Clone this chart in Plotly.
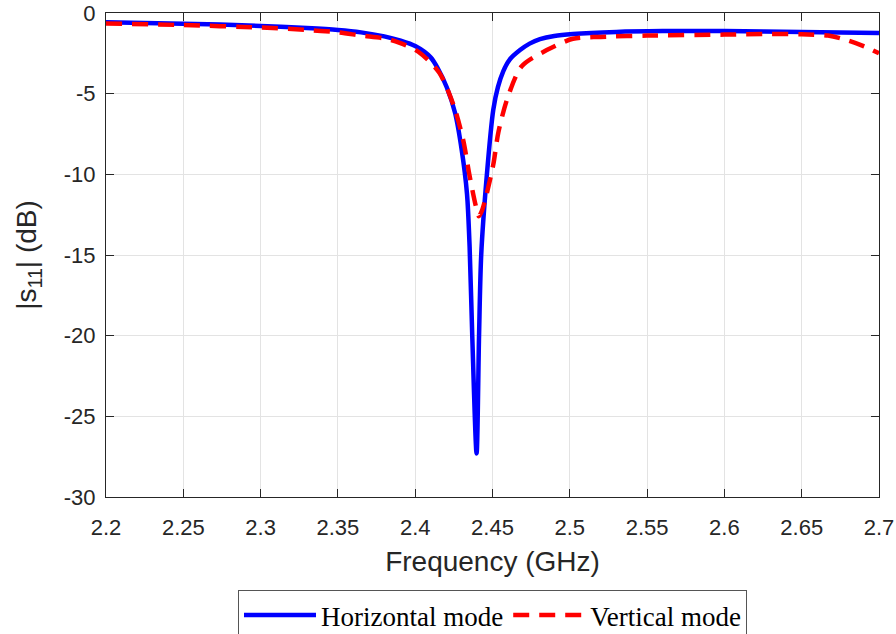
import plotly.graph_objects as go

# Horizontal mode |S11| (dB)
freq_h = [2.20, 2.25, 2.30, 2.33, 2.35, 2.365, 2.38, 2.39, 2.40, 2.41, 2.415, 2.4204, 2.4258,
          2.4301, 2.4335, 2.4352, 2.4369, 2.4397, 2.4413, 2.4427, 2.4462, 2.4505, 2.4535,
          2.457, 2.461, 2.4678, 2.474, 2.4807, 2.49, 2.502, 2.53, 2.56, 2.60, 2.65, 2.70]
s11_h = [-0.58, -0.66, -0.80, -0.93, -1.05, -1.20, -1.45, -1.70, -2.05, -2.75, -3.50, -4.60, -6.20,
         -8.50, -11.2, -14.5, -20.0, -27.3, -20.0, -15.0, -10.2, -6.0, -4.6,
         -3.6, -2.9, -2.30, -1.90, -1.62, -1.42, -1.30, -1.17, -1.12, -1.12, -1.17, -1.24]

# Vertical mode |S11| (dB)
freq_v = [2.20, 2.25, 2.30, 2.33, 2.35, 2.365, 2.3815, 2.39, 2.402, 2.4156, 2.4251, 2.4311,
          2.435, 2.4393, 2.4412, 2.443, 2.4452, 2.4505, 2.4538, 2.4596, 2.4689, 2.4851,
          2.502, 2.52, 2.55, 2.60, 2.63, 2.65, 2.667, 2.68, 2.69, 2.70]
s11_v = [-0.65, -0.75, -0.90, -1.05, -1.20, -1.40, -1.60, -1.85, -2.40, -3.70, -5.80, -7.90,
         -10.0, -12.0, -12.6, -12.3, -11.6, -9.4, -7.4, -5.3, -3.3, -2.3,
         -1.60, -1.48, -1.40, -1.34, -1.30, -1.32, -1.40, -1.70, -2.05, -2.50]

x_ticks = [2.2, 2.25, 2.3, 2.35, 2.4, 2.45, 2.5, 2.55, 2.6, 2.65, 2.7]
x_ticktext = ["2.2", "2.25", "2.3", "2.35", "2.4", "2.45", "2.5", "2.55", "2.6", "2.65", "2.7"]
y_ticks = [0, -5, -10, -15, -20, -25, -30]
y_ticktext = ["0", "-5", "-10", "-15", "-20", "-25", "-30"]

fig = go.Figure()
fig.add_trace(go.Scatter(x=freq_h, y=s11_h, mode="lines", name="Horizontal mode",
                         line=dict(color="#0000ff", width=4.5, shape="spline", smoothing=0.8)))
fig.add_trace(go.Scatter(x=freq_v, y=s11_v, mode="lines", name="Vertical mode",
                         line=dict(color="#ff0000", width=4.5, dash="16px,10px",
                                   shape="spline", smoothing=0.8)))

axis_common = dict(showline=True, linecolor="#262626", linewidth=1.3, mirror="ticks",
                   ticks="inside", ticklen=8, tickcolor="#262626", tickwidth=1.3,
                   showgrid=True, gridcolor="#e3e3e3", gridwidth=1, zeroline=False,
                   automargin=False,
                   tickfont=dict(family="Liberation Sans, Arial", size=22, color="#262626"))

fig.update_xaxes(range=[2.2, 2.7], tickvals=x_ticks, ticktext=x_ticktext,
                 ticklabelstandoff=10,
                 title=dict(text="Frequency (GHz)", standoff=12,
                            font=dict(family="Liberation Sans, Arial", size=28, color="#262626")),
                 **axis_common)
fig.update_yaxes(range=[-30, 0], tickvals=y_ticks, ticktext=y_ticktext,
                 ticklabelstandoff=5,
                 title=dict(text="|s<sub>11</sub>| (dB)", standoff=18,
                            font=dict(family="Liberation Sans, Arial", size=28, color="#262626")),
                 **axis_common)

fig.update_layout(
    width=896, height=634,
    margin=dict(l=106, r=17, t=13, b=137, autoexpand=False),
    paper_bgcolor="white", plot_bgcolor="white",
    showlegend=True,
    legend=dict(orientation="h", x=0.5, xanchor="center", y=-0.192, yanchor="top",
                bordercolor="#555555", borderwidth=1, bgcolor="white",
                font=dict(family="Liberation Serif, Times New Roman", size=27, color="#000000"),
                itemwidth=72, tracegroupgap=0),
)

fig.write_html("out.html")
